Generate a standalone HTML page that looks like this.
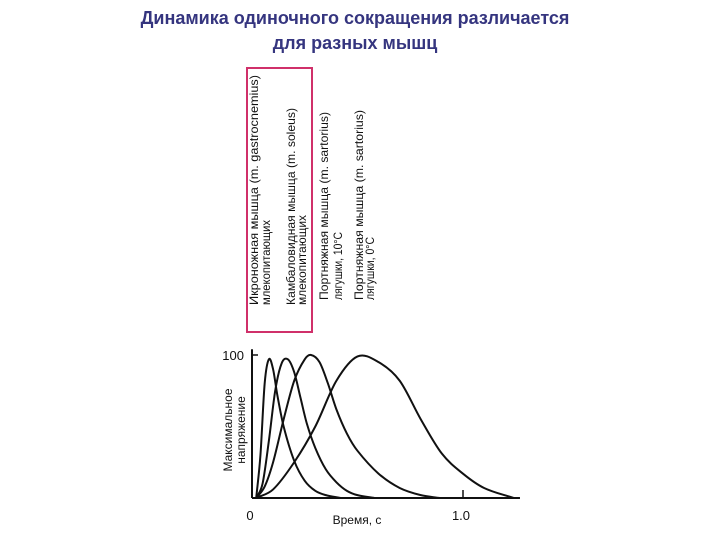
<!DOCTYPE html>
<html><head><meta charset="utf-8"><style>
body{margin:0;background:#fff;width:720px;height:540px;overflow:hidden;font-family:"Liberation Sans",sans-serif}
.t{position:absolute;left:0;width:710px;text-align:center;font-weight:bold;font-size:18px;color:#35357f}
</style></head><body>
<div class="t" style="top:8px">Динамика одиночного сокращения различается</div>
<div class="t" style="top:33px">для разных мышц</div>
<svg width="720" height="540" style="position:absolute;left:0;top:0">
<rect x="247" y="68" width="65" height="264" fill="none" stroke="#d0306a" stroke-width="2"/>
<g font-size="12" fill="#111">
<text textLength="230" lengthAdjust="spacingAndGlyphs" transform="translate(258,305) rotate(-90)">Икроножная мышца  (m. gastrocnemius)</text>
<text textLength="85" lengthAdjust="spacingAndGlyphs" transform="translate(270,305) rotate(-90)">млекопитающих</text>
<text textLength="197" lengthAdjust="spacingAndGlyphs" transform="translate(295,305) rotate(-90)">Камбаловидная мышца  (m. soleus)</text>
<text textLength="90" lengthAdjust="spacingAndGlyphs" transform="translate(306,305) rotate(-90)">млекопитающих</text>
<text textLength="188" lengthAdjust="spacingAndGlyphs" transform="translate(328,300) rotate(-90)">Портняжная мышца  (m. sartorius)</text>
<text textLength="68" lengthAdjust="spacingAndGlyphs" transform="translate(342,300) rotate(-90)">лягушки, 10°C</text>
<text textLength="190" lengthAdjust="spacingAndGlyphs" transform="translate(363,300) rotate(-90)">Портняжная мышца  (m. sartorius)</text>
<text textLength="63" lengthAdjust="spacingAndGlyphs" transform="translate(374,300) rotate(-90)">лягушки, 0°C</text>
</g>
<g id="plot"></g>
</svg>
<script>
const t1=[0.02,0.04,0.06,0.08,0.10,0.12,0.15,0.2,0.25,0.3,0.35,0.42];
const v1=[0,30,80,97,90,72,50,26,12,5,2,0];
const t2=[0.02,0.05,0.08,0.11,0.14,0.17,0.2,0.23,0.26,0.3,0.35,0.4,0.45,0.5,0.58];
const v2=[0,10,40,75,94,97,88,70,52,35,20,11,5,2,0];
const t3=[0.02,0.06,0.1,0.15,0.2,0.25,0.28,0.32,0.36,0.4,0.45,0.5,0.6,0.7,0.8,0.89];
const v3=[0,8,25,55,82,97,100,95,80,62,45,33,17,7,2,0];
const t4=[0.02,0.1,0.2,0.3,0.4,0.5,0.6,0.7,0.8,0.9,1.0,1.1,1.24];
const v4=[0,6,25,50,82,99,95,82,55,31,17,7,0];
const xTicks=[0,1.0];const xTickLabels=["0","1.0"];
const yTicks=[100];const yTickLabels=["100"];
const X=t=>252+t*211, Y=v=>498-v*1.43;
const NS="http://www.w3.org/2000/svg", g=document.getElementById('plot');
function mk(tag,a){const e=document.createElementNS(NS,tag);for(const k in a)e.setAttribute(k,a[k]);g.appendChild(e);return e;}
let e=mk('line',{x1:X(0),y1:Y(0),x2:X(1.27),y2:Y(0),stroke:'#111','stroke-width':2});


e=mk('line',{x1:X(0),y1:Y(104),x2:X(0),y2:Y(0),stroke:'#111','stroke-width':2});


xTicks.forEach((t,i)=>{
 e=mk('text',{x:X(t)-2,y:520,'font-size':13,'text-anchor':'middle',fill:'#111'});e.textContent=xTickLabels[i];
 
 
 if(t>0){e=mk('line',{x1:X(t),y1:Y(0),x2:X(t),y2:Y(0)-8,stroke:'#111','stroke-width':1.5});
 
 }
});
yTicks.forEach((v,i)=>{
 e=mk('text',{x:X(0)-8,y:Y(v)+5,'font-size':13,'text-anchor':'end',fill:'#111'});e.textContent=yTickLabels[i];
 
 
 e=mk('line',{x1:X(0),y1:Y(v),x2:X(0)+6,y2:Y(v),stroke:'#111','stroke-width':1.5});
 
 
});
e=mk('text',{x:357,y:524,'font-size':12,'text-anchor':'middle',fill:'#111'});e.textContent='Время, с';


e=mk('text',{transform:'translate(232,430) rotate(-90)','font-size':12,'text-anchor':'middle',fill:'#111'});e.textContent='Максимальное';


e=mk('text',{transform:'translate(245,430) rotate(-90)','font-size':12,'text-anchor':'middle',fill:'#111'});e.textContent='напряжение';


function path(ts,vs){const p=ts.map((t,i)=>[X(t),Y(vs[i])]);const n=p.length;
 const m=p.map((q,i)=>{const a=p[Math.max(i-1,0)],b=p[Math.min(i+1,n-1)];return (b[1]-a[1])/(b[0]-a[0]);});
 let d='M'+p[0];
 for(let i=0;i<n-1;i++){const b=p[i],c=p[i+1],dx=(c[0]-b[0])/3;
 d+=' C'+(b[0]+dx)+','+(b[1]+m[i]*dx)+' '+(c[0]-dx)+','+(c[1]-m[i+1]*dx)+' '+c;}return d;}
[[t1,v1],[t2,v2],[t3,v3],[t4,v4]].forEach((s,i)=>{
 const el=mk('path',{d:path(s[0],s[1]),fill:'none',stroke:'#111','stroke-width':2});
 
 
});
</script>
</body></html>
